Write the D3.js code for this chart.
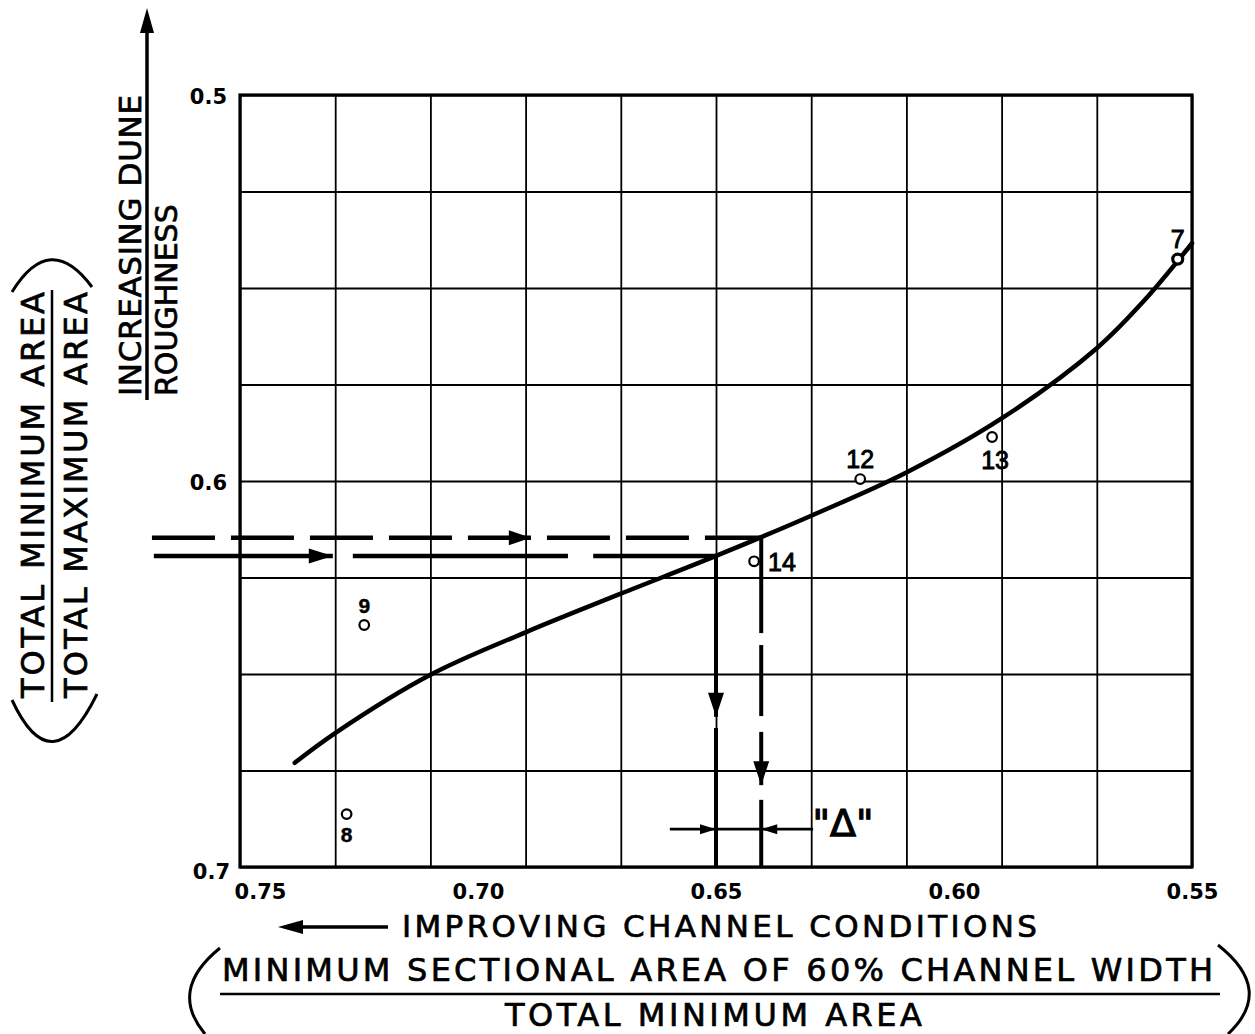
<!DOCTYPE html>
<html><head><meta charset="utf-8">
<script src="https://cdn.jsdelivr.net/npm/d3@7"></script>
<style>
html,body{margin:0;padding:0;background:#fff;}
svg{display:block;background:#fff;}
text{font-family:"DejaVu Sans",sans-serif;fill:#000;}
.lbl{stroke:#000;stroke-width:0.7px;}
</style></head><body>
<svg id="chart" width="1255" height="1034"></svg>
<script>
// ---------- data ----------
const xGridValues = [0.75, 0.73, 0.71, 0.69, 0.67, 0.65, 0.63, 0.61, 0.59, 0.57, 0.55];
const yGridValues = [0.5, 0.525, 0.55, 0.575, 0.6, 0.625, 0.65, 0.675, 0.7];
const xTickLabels = [0.75, 0.70, 0.65, 0.60, 0.55];
const yTickLabels = [0.5, 0.6, 0.7];

// fitted curve
const curveX = [0.7385, 0.73, 0.71, 0.69, 0.67, 0.65, 0.63, 0.61, 0.59, 0.57, 0.56, 0.55];
const curveY = [0.6730, 0.6653, 0.6502, 0.6392, 0.6292, 0.6194, 0.6090, 0.5978, 0.5838, 0.5656, 0.5532, 0.5384];

// observed points
const pointIds = ["7", "12", "13", "14", "9", "8"];
const pointX = [0.553, 0.6197, 0.592, 0.642, 0.7239, 0.7276];
const pointY = [0.5425, 0.5995, 0.5886, 0.6208, 0.6373, 0.6863];
const pointLabelSide = ["above", "above", "below", "right", "above", "below"];

// construction lines (data units)
const upperLineY = 0.6147, upperLineX = [0.7685, 0.6405], upperArrowTipX = 0.6889;
const lowerLineY = 0.6194, lowerSegsX = [[0.7681, 0.7305], [0.7263, 0.6811], [0.6758, 0.65]], lowerArrowTipX = 0.7305;
const solidDropX = 0.65, solidDropSegsY = [[0.6194, 0.6611], [0.6640, 0.70]], solidDropTipY = 0.6611;
const dashDropX = 0.6405, dashDropSegsY = [[0.6147, 0.6394], [0.6425, 0.6609], [0.6650, 0.6788], [0.6826, 0.70]], dashDropTipY = 0.6788;
const deltaY = 0.6902, deltaLeftX = 0.6597, deltaRightX = 0.6296;
const deltaLabel = "\"Δ\"", deltaLabelX = 0.6233, deltaLabelY = 0.6920;

// ---------- drawing ----------
const svg = d3.select("#chart");
const x = d3.scaleLinear().domain([0.75, 0.55]).range([240, 1192]);
const y = d3.scaleLinear().domain([0.5, 0.7]).range([95, 867]);
const H = y(0.7) - y(0.5), W = x(0.55) - x(0.75);

// grid
svg.append("g").attr("transform", `translate(0,${y(0.7)})`)
  .call(d3.axisBottom(x).tickValues(xGridValues).tickSize(-H).tickFormat(""))
  .call(g => g.select(".domain").remove())
  .selectAll("line").attr("stroke", "#000").attr("stroke-width", 1.8);
svg.append("g").attr("transform", `translate(${x(0.75)},0)`)
  .call(d3.axisLeft(y).tickValues(yGridValues).tickSize(-W).tickFormat(""))
  .call(g => g.select(".domain").remove())
  .selectAll("line").attr("stroke", "#000").attr("stroke-width", 1.8);
svg.append("rect").attr("x", x(0.75)).attr("y", y(0.5)).attr("width", W).attr("height", H)
  .attr("fill", "none").attr("stroke", "#000").attr("stroke-width", 3.2);

// tick labels
const xl = svg.append("g").attr("transform", `translate(0,${y(0.7)})`)
  .call(d3.axisBottom(x).tickValues(xTickLabels).tickSize(0).tickFormat(d3.format(".2f")));
xl.select(".domain").remove();
xl.selectAll("text").attr("y", 32).attr("dy", 0).attr("fill", "#000")
  .style("font-family", "'DejaVu Sans',sans-serif").style("font-weight", "bold").style("font-size", "21px")
  .attr("dx", d => d === 0.75 ? 20 : 0);
const yl = svg.append("g").attr("transform", `translate(${x(0.75)},0)`)
  .call(d3.axisLeft(y).tickValues(yTickLabels).tickSize(0).tickPadding(13).tickFormat(d3.format(".1f")));
yl.select(".domain").remove();
yl.selectAll("text").attr("dy", d => d === 0.7 ? "0.55em" : "0.42em").attr("dx", d => d === 0.7 ? 3 : 0).attr("fill", "#000")
  .style("font-family", "'DejaVu Sans',sans-serif").style("font-weight", "bold").style("font-size", "21px");

// curve
const line = d3.line().x(d => x(d[0])).y(d => y(d[1])).curve(d3.curveCatmullRom.alpha(0.5));
svg.append("path").datum(d3.zip(curveX, curveY)).attr("d", line)
  .attr("fill", "none").attr("stroke", "#000").attr("stroke-width", 4.5).attr("stroke-linecap", "round");

// helpers
function arrowHead(px, py, dir, len, half) {
  let pts;
  if (dir === "right") pts = [[px, py], [px - len, py - half], [px - len, py + half]];
  else if (dir === "left") pts = [[px, py], [px + len, py - half], [px + len, py + half]];
  else if (dir === "down") pts = [[px, py], [px - half, py - len], [px + half, py - len]];
  else pts = [[px, py], [px - half, py + len], [px + half, py + len]];
  svg.append("path").attr("d", "M" + pts.map(p => p.join(",")).join("L") + "Z").attr("fill", "#000");
}
function seg(x1, y1, x2, y2, w) {
  return svg.append("line").attr("x1", x1).attr("y1", y1).attr("x2", x2).attr("y2", y2)
    .attr("stroke", "#000").attr("stroke-width", w);
}

// upper dashed horizontal
seg(x(upperLineX[0]), y(upperLineY), x(upperLineX[1]), y(upperLineY), 4.5).attr("stroke-dasharray", "63,16");
arrowHead(x(upperArrowTipX), y(upperLineY), "right", 22, 7.5);
// lower horizontal
lowerSegsX.forEach(s => seg(x(s[0]), y(lowerLineY), x(s[1]), y(lowerLineY), 4.5));
arrowHead(x(lowerArrowTipX), y(lowerLineY), "right", 24, 7.5);
// vertical drops
solidDropSegsY.forEach(s => seg(x(solidDropX), y(s[0]), x(solidDropX), y(s[1]), 4));
arrowHead(x(solidDropX), y(solidDropTipY), "down", 24, 8);
dashDropSegsY.forEach(s => seg(x(dashDropX), y(s[0]), x(dashDropX), y(s[1]), 4));
arrowHead(x(dashDropX), y(dashDropTipY), "down", 24, 8);
// delta dimension
seg(x(deltaLeftX), y(deltaY), x(deltaRightX), y(deltaY), 2.8);
arrowHead(x(solidDropX), y(deltaY), "right", 16, 5);
arrowHead(x(dashDropX), y(deltaY), "left", 16, 5);
svg.append("text").attr("class", "lbl").attr("x", x(deltaLabelX)).attr("y", y(deltaLabelY)).attr("text-anchor", "middle")
  .style("font-size", "38px").style("stroke-width", "1.2px").text(deltaLabel);

// points
const pts = d3.range(pointIds.length).map(i => ({id: pointIds[i], x: pointX[i], y: pointY[i], side: pointLabelSide[i]}));
svg.append("g").selectAll("circle").data(pts).join("circle")
  .attr("cx", d => x(d.x)).attr("cy", d => y(d.y)).attr("r", d => d.id === "7" ? 5 : 4.8)
  .attr("fill", "#fff").attr("stroke", "#000").attr("stroke-width", d => d.id === "7" ? 3.2 : 2.2);
svg.append("g").selectAll("text").data(pts).join("text")
  .attr("class", "lbl")
  .attr("x", d => x(d.x) + (d.side === "right" ? 14 : (d.id === "13" ? 3 : 0)))
  .attr("y", d => y(d.y) + (d.side === "above" ? (d.id === "9" ? -12 : -11) : d.side === "below" ? (d.id === "8" ? 28 : 32) : 10))
  .attr("text-anchor", d => d.side === "right" ? "start" : "middle")
  .style("font-family", "'Liberation Sans',Arial,sans-serif")
  .style("font-weight", d => (d.id === "9" || d.id === "8") ? "bold" : "normal")
  .style("stroke-width", d => (d.id === "9" || d.id === "8") ? "0.4px" : "0.9px")
  .style("font-size", d => (d.id === "9" || d.id === "8") ? "21px" : "25px")
  .text(d => d.id);

// ---------- axis titles ----------
// bottom
arrowHead(278, 927, "left", 25, 7);
seg(300, 927, 388, 927, 3.5);
svg.append("text").attr("class", "lbl").attr("x", 402).attr("y", 937).attr("textLength", 635).attr("lengthAdjust", "spacing")
  .style("font-size", "31px").text("IMPROVING CHANNEL CONDITIONS");
svg.append("text").attr("class", "lbl").attr("x", 222).attr("y", 981).attr("textLength", 991).attr("lengthAdjust", "spacing")
  .style("font-size", "32px").text("MINIMUM SECTIONAL AREA OF 60% CHANNEL WIDTH");
seg(220, 994, 1220, 994, 2.5);
svg.append("text").attr("class", "lbl").attr("x", 505).attr("y", 1026).attr("textLength", 417).attr("lengthAdjust", "spacing")
  .style("font-size", "32px").text("TOTAL MINIMUM AREA");
svg.append("path").attr("d", "M220,948 Q168,990 205,1034").attr("fill", "none").attr("stroke", "#000").attr("stroke-width", 3);
svg.append("path").attr("d", "M1218,945 Q1275,990 1228,1034").attr("fill", "none").attr("stroke", "#000").attr("stroke-width", 3);

// left: increasing dune roughness
seg(147, 400, 147, 28, 3.5);
arrowHead(147, 8, "up", 25, 7);
svg.append("text").attr("class", "lbl").attr("transform", "translate(141,396) rotate(-90)").attr("textLength", 301).attr("lengthAdjust", "spacing")
  .style("font-size", "31px").text("INCREASING DUNE");
svg.append("text").attr("class", "lbl").attr("transform", "translate(177,396) rotate(-90)")
  .style("font-size", "30px").text("ROUGHNESS");

// left: area ratio
svg.append("text").attr("class", "lbl").attr("transform", "translate(44,698) rotate(-90)").attr("textLength", 406).attr("lengthAdjust", "spacing")
  .style("font-size", "32px").text("TOTAL MINIMUM AREA");
seg(52, 290, 52, 702, 2.5);
svg.append("text").attr("class", "lbl").attr("transform", "translate(87,698) rotate(-90)").attr("textLength", 406).attr("lengthAdjust", "spacing")
  .style("font-size", "32px").text("TOTAL MAXIMUM AREA");
svg.append("path").attr("d", "M12,292 Q50,230 92,287").attr("fill", "none").attr("stroke", "#000").attr("stroke-width", 3);
svg.append("path").attr("d", "M12,700 Q52,786 97,694").attr("fill", "none").attr("stroke", "#000").attr("stroke-width", 3);
</script>
</body></html>
